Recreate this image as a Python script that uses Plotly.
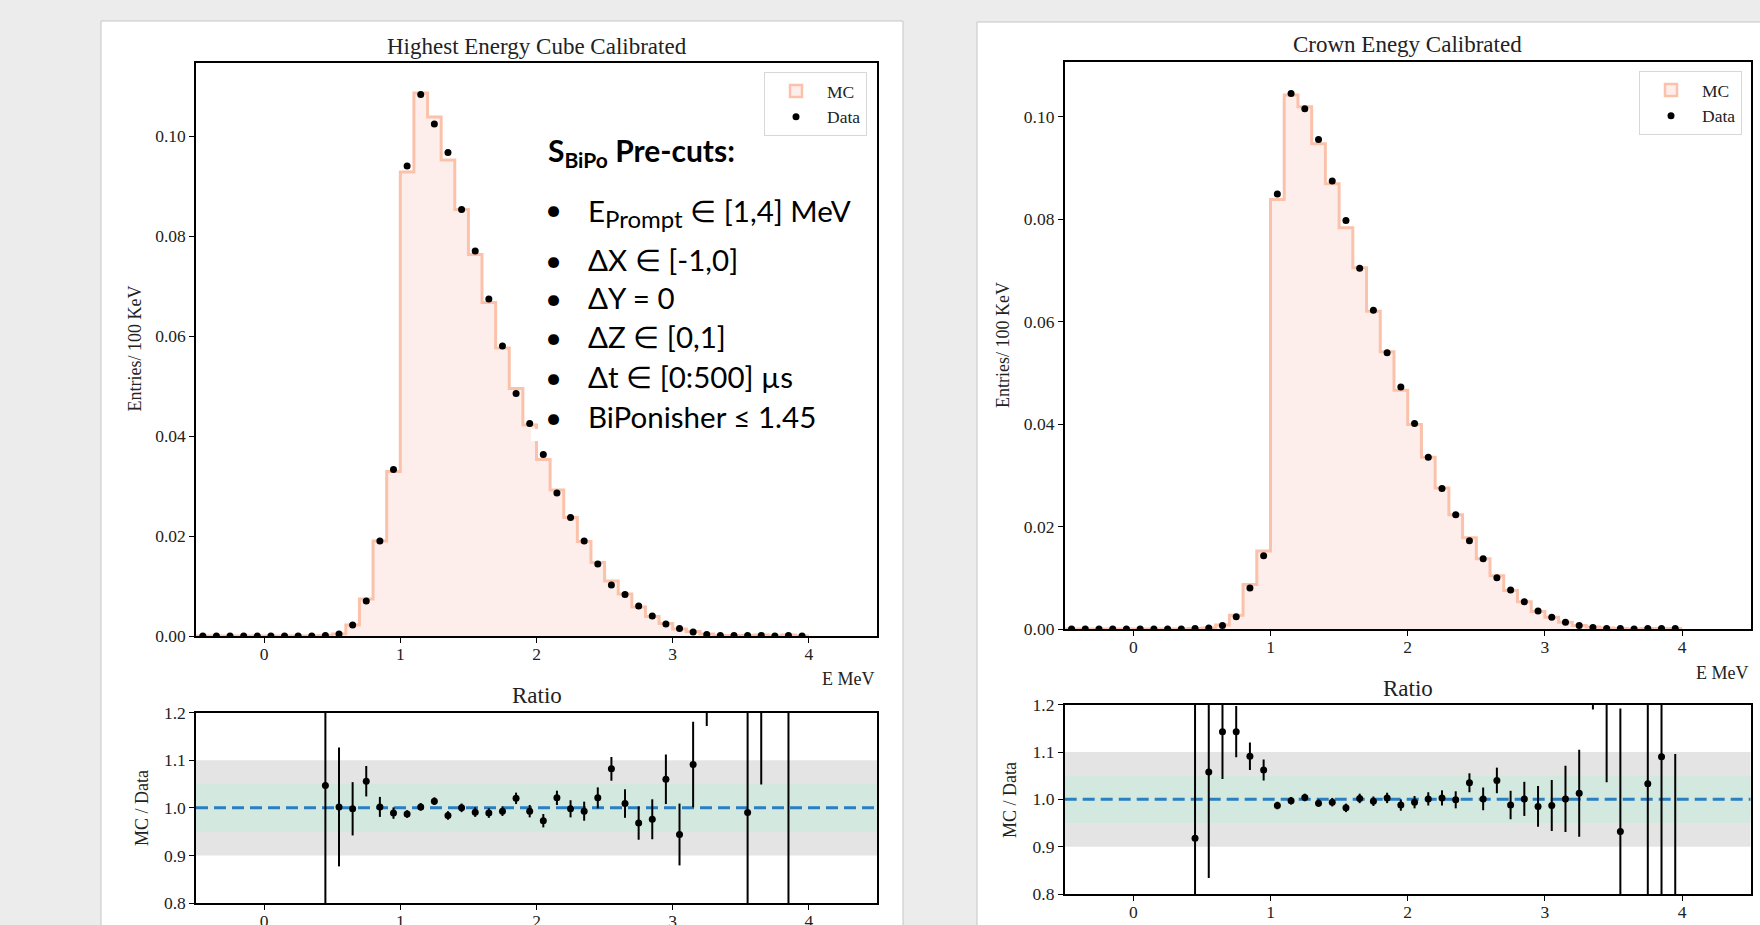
import numpy as np
import plotly.graph_objects as go

# ---------------------------------------------------------------- binning
bin_edges = np.round(np.arange(-0.5, 4.0001, 0.1), 2)          # 45 bins of 100 keV
bin_centers = np.round((bin_edges[:-1] + bin_edges[1:]) / 2, 2)

# ---------------------------------------------------------------- left: highest energy cube
hec_data = [0, 0, 0, 0, 0, 0, 0, 0, 0, 0.0001,
            0.0004, 0.0022, 0.0070, 0.0190, 0.0333, 0.0940, 0.1083, 0.1024, 0.0967, 0.0853,
            0.0770, 0.0674, 0.0580, 0.0485, 0.0425, 0.0363, 0.0286, 0.0237, 0.0190, 0.0144,
            0.0102, 0.0083, 0.0060, 0.0040, 0.0024, 0.0015, 0.0008, 0.0003, 0.0001, 0.0001,
            0.0001, 0.0001, 0, 0.0001, 0]
hec_mc = [0, 0, 0, 0, 0, 0, 0, 0, 0, 0.0001,
          0.0004, 0.0022, 0.0074, 0.0190, 0.0329, 0.0928, 0.1086, 0.1038, 0.0952, 0.0853,
          0.0763, 0.0667, 0.0576, 0.0495, 0.0422, 0.0353, 0.0292, 0.0237, 0.0189, 0.0147,
          0.0110, 0.0084, 0.0058, 0.0039, 0.0025, 0.0014, 0.0009, 0.0004, 0.0001, 0.0001,
          0.0001, 0.0002, 0, 0.0002, 0]
hec_ratio = [None] * 9 + [
    1.047, 1.002, 0.998, 1.056, 1.002, 0.989, 0.987, 1.002, 1.014, 0.984,
    1.000, 0.991, 0.989, 0.993, 1.020, 0.993, 0.973, 1.021, 0.998, 0.993,
    1.021, 1.082, 1.009, 0.968, 0.976, 1.060, 0.944, 1.091, 1.300, None,
    None, 0.990, 1.500, None, 1.600, None]
hec_ratio_err = [None] * 9 + [
    0.60, 0.125, 0.056, 0.032, 0.021, 0.012, 0.008, 0.008, 0.008, 0.009,
    0.009, 0.010, 0.010, 0.010, 0.012, 0.013, 0.014, 0.015, 0.018, 0.020,
    0.022, 0.025, 0.030, 0.035, 0.042, 0.052, 0.065, 0.090, 0.128, None,
    None, 0.60, 0.451, None, 1.20, None]

# ---------------------------------------------------------------- right: crown energy
crown_data = [0, 0, 0, 0, 0, 0, 0, 0, 0, 0.0001,
              0.0002, 0.0007, 0.0024, 0.0080, 0.0143, 0.0849, 0.1045, 0.1015, 0.0955, 0.0874,
              0.0797, 0.0704, 0.0622, 0.0539, 0.0472, 0.0401, 0.0335, 0.0274, 0.0223, 0.0172,
              0.0137, 0.0100, 0.0076, 0.0053, 0.0035, 0.0023, 0.0013, 0.0007, 0.0003, 0.0001,
              0.0001, 0, 0.0001, 0.0001, 0.0001]
crown_mc = [0, 0, 0, 0, 0, 0, 0, 0, 0, 0.0001,
            0.0002, 0.0008, 0.0027, 0.0087, 0.0152, 0.0838, 0.1042, 0.1019, 0.0947, 0.0869,
            0.0783, 0.0705, 0.0620, 0.0541, 0.0466, 0.0399, 0.0335, 0.0275, 0.0223, 0.0178,
            0.0137, 0.0104, 0.0075, 0.0053, 0.0034, 0.0023, 0.0013, 0.0007, 0.0004, 0.0002,
            0.0001, 0, 0.0001, 0.0001, 0.0001]
crown_ratio = [None] * 9 + [
    0.918, 1.058, 1.143, 1.143, 1.091, 1.062, 0.987, 0.997, 1.004, 0.992,
    0.994, 0.982, 1.002, 0.996, 1.003, 0.988, 0.994, 1.001, 1.003, 0.999,
    1.035, 1.001, 1.040, 0.988, 1.001, 0.985, 0.987, 1.001, 1.013, 1.400,
    1.500, 0.932, None, 1.033, 1.090, 0.500]
crown_ratio_err = [None] * 9 + [
    0.50, 0.224, 0.100, 0.054, 0.029, 0.022, 0.008, 0.008, 0.008, 0.008,
    0.009, 0.009, 0.010, 0.010, 0.011, 0.012, 0.013, 0.014, 0.016, 0.018,
    0.020, 0.024, 0.027, 0.030, 0.036, 0.043, 0.054, 0.070, 0.092, 0.210,
    0.464, 0.260, None, 0.50, 0.50, 0.596]

hist_ticks = [0.00, 0.02, 0.04, 0.06, 0.08, 0.10]
ratio_ticks = [0.8, 0.9, 1.0, 1.1, 1.2]
energy_ticks = [0, 1, 2, 3, 4]
x_range = [-0.5, 4.5]
outer_band = [0.9, 1.1]
inner_band = [0.95, 1.05]

# ---------------------------------------------------------------- styling
W, H = 1760, 925
SERIF = "Liberation Serif"
SANS = "Lato"
INK = "#222222"
MC_EDGE = "#fbc2ab"
MC_FILL = "#feeeeb"


def px(x):
    return x / W


def py(y):
    return 1 - y / H


def band_trace(lo, hi, color, xr, yr):
    return go.Scatter(x=[x_range[0], x_range[1], x_range[1], x_range[0], x_range[0]],
                      y=[lo, lo, hi, hi, lo], mode="lines", fill="toself", fillcolor=color,
                      line=dict(width=0), showlegend=False, hoverinfo="skip",
                      xaxis=xr, yaxis=yr)


fig = go.Figure()

panels = [
    # (x main, y main, x ratio, y ratio, data, mc, ratio, err, legend)
    ("x", "y", "x2", "y2", hec_data, hec_mc, hec_ratio, hec_ratio_err, "legend"),
    ("x3", "y3", "x4", "y4", crown_data, crown_mc, crown_ratio, crown_ratio_err, "legend2"),
]

for xm, ym, xr, yr, data, mc, ratio, err, leg in panels:
    # MC histogram as a filled step outline
    fig.add_trace(go.Scatter(
        x=bin_edges, y=list(mc) + [mc[-1]], mode="lines", line_shape="hv",
        line=dict(color=MC_EDGE, width=3), fill="tozeroy", fillcolor=MC_FILL,
        name="MC", showlegend=False, legend=leg, xaxis=xm, yaxis=ym, hoverinfo="skip"))
    # legend entry for MC drawn as a filled patch
    fig.add_trace(go.Bar(
        x=[None], y=[None], name="MC",
        marker=dict(color=MC_FILL, line=dict(color=MC_EDGE, width=2.5)),
        xaxis=xm, yaxis=ym, legend=leg))
    fig.add_trace(go.Scatter(
        x=bin_centers, y=data, mode="markers",
        marker=dict(color="black", size=7),
        name="Data", xaxis=xm, yaxis=ym, legend=leg))

    # ratio pad: tolerance bands, unity line, MC/Data points
    fig.add_trace(band_trace(outer_band[0], outer_band[1], "#e4e4e4", xr, yr))
    fig.add_trace(band_trace(inner_band[0], inner_band[1], "#d3e9e0", xr, yr))
    fig.add_trace(go.Scatter(
        x=x_range, y=[1.0, 1.0], mode="lines",
        line=dict(color="#2a7fc0", width=3, dash="12px,6px"),
        showlegend=False, hoverinfo="skip", xaxis=xr, yaxis=yr))
    fig.add_trace(go.Scatter(
        x=bin_centers, y=ratio, mode="markers",
        marker=dict(color="black", size=7),
        error_y=dict(type="data", array=err, color="black", thickness=2, width=0),
        showlegend=False, xaxis=xr, yaxis=yr))

# white slide panels behind each figure
fig.add_shape(type="rect", xref="paper", yref="paper", x0=px(101), x1=px(903), y0=py(935), y1=py(21),
              fillcolor="white", line=dict(color="#c6c6c6", width=1), layer="below")
fig.add_shape(type="rect", xref="paper", yref="paper", x0=px(977), x1=px(1775), y0=py(935), y1=py(22),
              fillcolor="white", line=dict(color="#c6c6c6", width=1), layer="below")

# small opaque patch of the cut-list text box lying over the histogram
fig.add_shape(type="rect", xref="paper", yref="paper", x0=px(531), x1=px(613), y0=py(441), y1=py(429),
              fillcolor="white", line_width=0, layer="above")

axis_common = dict(showgrid=False, zeroline=False, showline=True, linecolor="black", linewidth=1.5,
                   mirror=True, ticks="outside", ticklen=5, tickwidth=1.3, tickcolor="black",
                   automargin=False, tickfont=dict(family=SERIF, size=17.5, color=INK))
x_common = dict(range=x_range, tickvals=energy_ticks, ticklabelstandoff=-4, **axis_common)

x_left = [px(196), px(877)]
x_right = [px(1064.7), px(1750.7)]

legend_common = dict(xanchor="right", yanchor="top", bgcolor="white", bordercolor="#d8d8d8",
                     borderwidth=1, font=dict(family=SERIF, size=17.5, color=INK),
                     itemwidth=52, tracegroupgap=0)

fig.update_layout(
    width=W, height=H, margin=dict(l=0, r=0, t=0, b=0, pad=0, autoexpand=False),
    paper_bgcolor="#ececec", plot_bgcolor="white",
    xaxis=dict(domain=x_left, anchor="y", **x_common),
    yaxis=dict(domain=[py(636), py(63)], anchor="x", range=[0, 0.1146], tickvals=hist_ticks,
               tickformat=".2f", **axis_common),
    xaxis2=dict(domain=x_left, anchor="y2", **x_common),
    yaxis2=dict(domain=[py(903), py(712.7)], anchor="x2", range=[0.8, 1.2], tickvals=ratio_ticks,
                tickformat=".1f", **axis_common),
    xaxis3=dict(domain=x_right, anchor="y3", **x_common),
    yaxis3=dict(domain=[py(629), py(61.7)], anchor="x3", range=[0, 0.1107], tickvals=hist_ticks,
                tickformat=".2f", **axis_common),
    xaxis4=dict(domain=x_right, anchor="y4", **x_common),
    yaxis4=dict(domain=[py(894), py(704.7)], anchor="x4", range=[0.8, 1.2], tickvals=ratio_ticks,
                tickformat=".1f", **axis_common),
    legend=dict(x=px(867), y=py(72), **legend_common),
    legend2=dict(x=px(1742), y=py(71), **legend_common),
    showlegend=True,
)

annotations = []


def label(text, x, y, size=18, angle=0, xanchor="center", yanchor="middle", family=SERIF, color=INK):
    annotations.append(dict(text=text, x=px(x), y=py(y), xref="paper", yref="paper", showarrow=False,
                            textangle=angle, xanchor=xanchor, yanchor=yanchor,
                            font=dict(family=family, size=size, color=color)))


# titles
label("Highest Energy Cube Calibrated", 536.5, 46, size=23)
label("Crown Enegy Calibrated", 1407.7, 45, size=23)
label("Ratio", 536.5, 695, size=23)
label("Ratio", 1407.7, 688, size=23)
# axis labels
label("E MeV", 877, 679, xanchor="right")
label("E MeV", 1750.7, 673, xanchor="right")
label("Entries/ 100 KeV", 134.5, 349, angle=-90)
label("Entries/ 100 KeV", 1003, 345, angle=-90)
label("MC / Data", 142, 808, angle=-90)
label("MC / Data", 1010, 800, angle=-90)

# selection summary text box
label("<b>S<sub>BiPo</sub> Pre-cuts:</b>", 546, 152, size=30, xanchor="left", family=SANS, color="black")
cut_lines = [
    ('E<sub><span style="font-size:24px">Prompt</span></sub> \u2208 [1,4] MeV', 213, 208.5),
    ("\u0394X \u2208 [-1,0]", 259.5, 259.5),
    ("\u0394Y = 0", 297, 297),
    ("\u0394Z \u2208 [0,1]", 336.5, 336.5),
    ("\u0394t \u2208 [0:500] \u00b5s", 376.5, 376.5),
    ("BiPonisher \u2264 1.45", 416.5, 416.5),
]
for text, y_text, y_bullet in cut_lines:
    label("\u2022", 553, y_bullet, size=29.5, family=SANS, color="black")
    label(text, 586, y_text, size=29.5, xanchor="left", family=SANS, color="black")

fig.update_layout(annotations=annotations)

fig.write_html("out.html")
